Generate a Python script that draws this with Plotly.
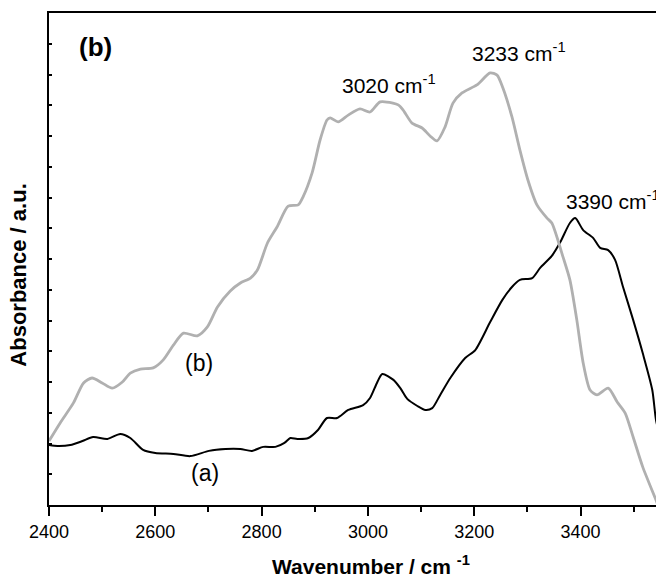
import plotly.graph_objects as go

# FTIR spectra, O-H / N-H stretching region
wn_a = [2400, 2416, 2440, 2463, 2483, 2510, 2534, 2553, 2577, 2600, 2634, 2666,
        2701, 2732, 2760, 2782, 2803, 2826, 2843, 2854, 2867, 2888, 2906, 2923,
        2942, 2963, 2991, 3004, 3017, 3027, 3048, 3061, 3074, 3093, 3108, 3121,
        3136, 3155, 3183, 3202, 3230, 3253, 3271, 3286, 3309, 3324, 3346, 3362,
        3380, 3390, 3405, 3424, 3437, 3452, 3465, 3480, 3499, 3517, 3535, 3542, 3550]
abs_a = [0.195, 0.192, 0.195, 0.208, 0.221, 0.215, 0.231, 0.218, 0.179, 0.169, 0.166, 0.159,
         0.176, 0.182, 0.182, 0.176, 0.189, 0.189, 0.202, 0.218, 0.215, 0.218, 0.244, 0.283,
         0.283, 0.309, 0.325, 0.348, 0.397, 0.426, 0.407, 0.380, 0.345, 0.322, 0.309, 0.315,
         0.358, 0.413, 0.478, 0.504, 0.595, 0.667, 0.709, 0.732, 0.738, 0.771, 0.810, 0.855,
         0.917, 0.933, 0.894, 0.868, 0.836, 0.829, 0.797, 0.709, 0.602, 0.494, 0.374, 0.276, 0.22]

wn_b = [2400, 2421, 2446, 2465, 2481, 2500, 2519, 2538, 2553, 2572, 2596, 2615,
        2634, 2653, 2679, 2698, 2717, 2741, 2760, 2779, 2792, 2811, 2829, 2850,
        2869, 2878, 2895, 2910, 2923, 2929, 2944, 2963, 2985, 3004, 3023, 3047,
        3057, 3066, 3083, 3102, 3117, 3130, 3145, 3160, 3177, 3205, 3230, 3243,
        3254, 3271, 3286, 3301, 3318, 3337, 3346, 3367, 3380, 3393, 3405, 3418,
        3431, 3452, 3469, 3484, 3499, 3517, 3542, 3550]
abs_b = [0.208, 0.267, 0.332, 0.397, 0.413, 0.397, 0.380, 0.400, 0.429, 0.442, 0.446, 0.472,
         0.520, 0.559, 0.550, 0.579, 0.644, 0.696, 0.722, 0.738, 0.764, 0.852, 0.904, 0.972,
         0.976, 1.002, 1.080, 1.187, 1.252, 1.259, 1.246, 1.268, 1.288, 1.278, 1.311, 1.307,
         1.301, 1.285, 1.242, 1.226, 1.200, 1.184, 1.229, 1.307, 1.340, 1.366, 1.405, 1.398,
         1.356, 1.262, 1.154, 1.057, 0.976, 0.933, 0.917, 0.807, 0.732, 0.602, 0.462, 0.374,
         0.358, 0.380, 0.335, 0.299, 0.221, 0.124, 0.016, -0.02]

x_ticks = [2400, 2600, 2800, 3000, 3200, 3400]
x_range = [2400, 3542]
y_range = [0, 1.6]

FONT = "Liberation Sans, Arial, sans-serif"

fig = go.Figure()
fig.add_trace(go.Scatter(x=wn_a, y=abs_a, mode="lines",
                         line=dict(color="black", width=2, shape="spline", smoothing=0.7),
                         showlegend=False))
fig.add_trace(go.Scatter(x=wn_b, y=abs_b, mode="lines",
                         line=dict(color="#b0b0b0", width=2.8, shape="spline", smoothing=0.7),
                         showlegend=False))

notes = [
    (2487, 1.489, "<b>(b)</b>", 26),
    (3040, 1.369, "3020 cm<sup>-1</sup>", 21),
    (3284, 1.473, "3233 cm<sup>-1</sup>", 21),
    (3462, 0.992, "3390 cm<sup>-1</sup>", 21),
    (2683, 0.462, "(b)", 23),
    (2694, 0.104, "(a)", 23),
]
for x, y, t, s in notes:
    fig.add_annotation(x=x, y=y, text=t, showarrow=False, xref="x", yref="y",
                       font=dict(family=FONT, size=s, color="black"),
                       xanchor="center", yanchor="middle")

# axis titles placed as annotations
fig.add_annotation(x=0.53, y=-0.122, xref="paper", yref="paper",
                   text="<b>Wavenumber / cm <sup>-1</sup></b>",
                   showarrow=False, font=dict(family=FONT, size=21, color="black"),
                   xanchor="center", yanchor="middle")
fig.add_annotation(x=-0.05, y=0.4675, xref="paper", yref="paper",
                   text="<b>Absorbance / a.u.</b>", textangle=-90,
                   showarrow=False, font=dict(family=FONT, size=22, color="black"),
                   xanchor="center", yanchor="middle")

fig.update_layout(
    width=656, height=577,
    margin=dict(l=49, r=0, t=13, b=72),
    paper_bgcolor="white", plot_bgcolor="white",
    font=dict(family=FONT, color="black"),
)
fig.update_xaxes(range=x_range, tickvals=x_ticks, ticks="outside", ticklen=9, tickwidth=2,
                 tickcolor="black", showline=True, linewidth=2, linecolor="black",
                 mirror=True, showgrid=False, zeroline=False,
                 tickfont=dict(family=FONT, size=18, color="black"),
                 minor=dict(dtick=100, tick0=2400, ticks="outside", ticklen=5, tickwidth=2,
                            tickcolor="black", showgrid=False))
fig.update_yaxes(range=y_range, dtick=0.1, tick0=0, ticks="inside", ticklen=3, tickwidth=1.5,
                 tickcolor="black", showticklabels=False, showline=True, linewidth=2,
                 linecolor="black", mirror=False, showgrid=False, zeroline=False)

fig.write_html("out.html")
